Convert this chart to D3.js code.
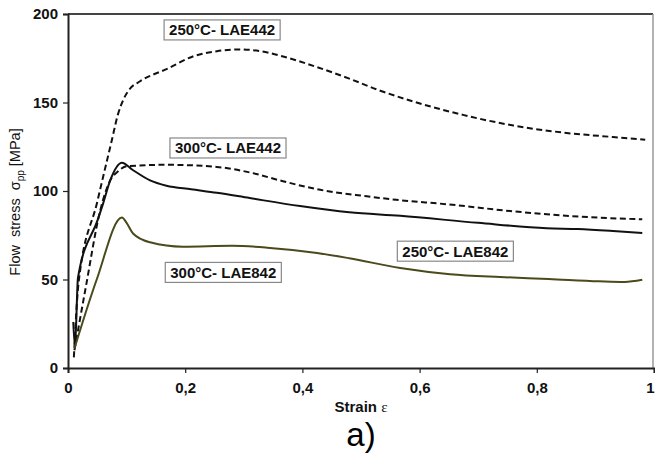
<!DOCTYPE html>
<html>
<head>
<meta charset="utf-8">
<script src="https://cdn.jsdelivr.net/npm/d3@7"></script>
<style>
  body { margin: 0; background: #fff; }
  text { font-family: Arial, "Liberation Sans", sans-serif; }
</style>
</head>
<body>
<div class="canvas"></div>
<script>
// values
const strain250_442 = [0.010, 0.018, 0.05, 0.075, 0.085, 0.095, 0.105, 0.123, 0.169, 0.213, 0.254, 0.293, 0.328, 0.367, 0.425, 0.48, 0.53, 0.59, 0.674, 0.76, 0.845, 0.93, 0.985];
const stress250_442 = [6, 48, 94, 129, 143, 152, 157.5, 162, 169, 176, 179, 180, 179, 176, 170, 163.5, 157, 150.5, 143, 137, 133, 130.5, 129];

const strain300_442 = [0.011, 0.03, 0.055, 0.072, 0.085, 0.1, 0.17, 0.254, 0.31, 0.367, 0.425, 0.51, 0.56, 0.647, 0.76, 0.874, 0.98];
const stress300_442 = [10, 45, 89, 106, 111, 114, 114.8, 113.6, 110.5, 105.5, 101, 97, 95, 92.5, 88.5, 85.5, 84];

const strain250_842 = [0.009, 0.012, 0.017, 0.051, 0.06, 0.072, 0.092, 0.11, 0.14, 0.168, 0.21, 0.254, 0.31, 0.396, 0.48, 0.567, 0.70, 0.817, 0.87, 0.93, 0.98];
const stress250_842 = [26, 12, 51, 84, 93, 106, 116, 112, 106, 103, 101, 99, 96, 91.5, 88, 86, 82, 79, 78.5, 77.4, 76.3];

const strain300_842 = [0.011, 0.049, 0.092, 0.1, 0.111, 0.14, 0.196, 0.28, 0.34, 0.425, 0.48, 0.567, 0.652, 0.737, 0.82, 0.906, 0.95, 0.98];
const stress300_842 = [11, 50, 85, 82, 76, 71, 68.5, 69, 68, 65, 62, 56.5, 53, 51.4, 50.3, 49, 48.6, 49.8];

const xTicks = [0, 0.2, 0.4, 0.6, 0.8, 1];
const xTickLabels = ["0", "0,2", "0,4", "0,6", "0,8", "1"];
const yTicks = [0, 50, 100, 150, 200];

const curveNames = ["250°C- LAE442", "300°C- LAE442", "250°C- LAE842", "300°C- LAE842"];

const W = 655, H = 459;
const mLeft = 68, mRight = 654, mTop = 14, mBottom = 368;

const svg = d3.select(".canvas")
    .append("svg")
    .attr("width", W)
    .attr("height", H);

const x = d3.scaleLinear().domain([0, 1]).range([mLeft, mRight]);
const y = d3.scaleLinear().domain([0, 200]).range([mBottom, mTop]);

// frame (top + right)
svg.append("line")
    .attr("x1", mLeft).attr("x2", 653).attr("y1", mTop).attr("y2", mTop)
    .attr("stroke", "#444").attr("stroke-width", 2);
svg.append("line")
    .attr("x1", 653).attr("x2", 653).attr("y1", mTop).attr("y2", mBottom)
    .attr("stroke", "#999").attr("stroke-width", 1.5);

// axes
const yAxis = svg.append("g")
    .attr("transform", "translate(" + mLeft + ",0)")
    .call(d3.axisLeft(y).tickValues(yTicks).tickSize(5).tickPadding(5));
const xAxis = svg.append("g")
    .attr("transform", "translate(0," + mBottom + ")")
    .call(d3.axisBottom(x).tickValues(xTicks).tickSize(5).tickPadding(9)
        .tickFormat((d, i) => xTickLabels[i]));

[xAxis, yAxis].forEach(a => {
    a.select(".domain").attr("stroke", "#222").attr("stroke-width", 2);
    a.selectAll(".tick line").attr("stroke", "#222").attr("stroke-width", 1.2);
    a.selectAll(".tick text")
        .attr("font-size", "15px")
        .attr("font-weight", "bold")
        .attr("fill", "#111");
});
// last x label sits at the very edge, keep it inside
xAxis.selectAll(".tick text").filter(d => d === 1).attr("text-anchor", "end").attr("dx", 0);

// axis titles
const yt = svg.append("text")
    .attr("transform", "translate(20,202) rotate(-90)")
    .attr("text-anchor", "middle")
    .attr("font-size", "14.5px")
    .attr("fill", "#111")
    .attr("xml:space", "preserve");
yt.append("tspan").text("Flow  stress  σ");
yt.append("tspan").attr("font-size", "10px").attr("dy", 4).text("pp");
yt.append("tspan").attr("dy", -4).text(" [MPa]");

const xt = svg.append("text")
    .attr("x", 361).attr("y", 412)
    .attr("text-anchor", "middle")
    .attr("font-size", "15px")
    .attr("fill", "#111");
xt.append("tspan").attr("font-weight", "bold").text("Strain ");
xt.append("tspan").attr("font-family", "'Liberation Serif', serif").attr("font-size", "15px").text("ε");

svg.append("text")
    .attr("x", 361).attr("y", 446)
    .attr("text-anchor", "middle")
    .attr("font-family", "'Liberation Serif', 'Times New Roman', serif")
    .attr("font-size", "33px")
    .attr("fill", "#000")
    .text("a)");

// curves
const series = [
    { xs: strain250_442, ys: stress250_442, color: "#111", dash: "6,3.5" },
    { xs: strain300_442, ys: stress300_442, color: "#111", dash: "6,3.5" },
    { xs: strain250_842, ys: stress250_842, color: "#111", dash: null },
    { xs: strain300_842, ys: stress300_842, color: "#4a4a1c", dash: null }
];

const line = d3.line()
    .x(d => x(d[0]))
    .y(d => y(d[1]))
    .curve(d3.curveMonotoneX);

series.forEach(s => {
    const pts = s.xs.map((v, i) => [v, s.ys[i]]);
    const p = svg.append("path")
        .datum(pts)
        .attr("d", line)
        .attr("fill", "none")
        .attr("stroke", s.color)
        .attr("stroke-width", 2);
    if (s.dash) p.attr("stroke-dasharray", s.dash);
});

// label boxes (anchored in data units)
const boxes = [
    { name: curveNames[0], s: 0.263, v: 191 },
    { name: curveNames[1], s: 0.273, v: 124.3 },
    { name: curveNames[2], s: 0.661, v: 66 },
    { name: curveNames[3], s: 0.265, v: 54 }
];

boxes.forEach(b => {
    const g = svg.append("g")
        .attr("transform", "translate(" + x(b.s) + "," + y(b.v) + ")");
    const t = g.append("text")
        .attr("text-anchor", "middle")
        .attr("dy", "0.36em")
        .attr("font-size", "15px")
        .attr("font-weight", "bold")
        .attr("fill", "#111")
        .text(b.name);
    const bb = t.node().getBBox();
    g.insert("rect", "text")
        .attr("x", bb.x - 5).attr("y", -10)
        .attr("width", bb.width + 10).attr("height", 20)
        .attr("fill", "#fff")
        .attr("stroke", "#888")
        .attr("stroke-width", 1.2);
});
</script>
</body>
</html>
